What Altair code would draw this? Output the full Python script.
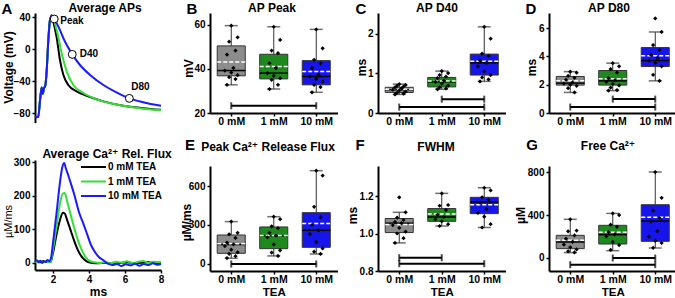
import json
import altair as alt
import pandas as pd

FONT = "Liberation Sans, Arial, DejaVu Sans"
W, H = 675, 298

GROUPS = ["0 mM", "1 mM", "10 mM"]
TRACES = ["0 mM TEA", "1 mM TEA", "10 mM TEA"]
BOX_FILL = ["#8c8c8c", "#1e8a1e", "#1616ea"]
TRACE_COLORS = ["#000000", "#33e033", "#1a1aff"]
INK = "#333333"

# ---------------- Average action potentials (ms, mV) ----------------
ap_rise_t = [1.0, 1.18, 1.28, 1.37, 1.43, 1.5, 1.57, 1.65, 1.74, 1.83, 1.93]
ap_rise_v = [-85, -85, -64, -48, -56, -49, -46, -27, 11, 36, 42]
ap_fall_t = {
    "0 mM TEA": [2.0, 2.2, 2.39, 2.57, 2.85, 3.31, 4.06, 4.8, 5.9, 7.0, 8.0],
    "1 mM TEA": [2.0, 2.2, 2.48, 2.76, 3.13, 3.69, 4.43, 5.54, 6.83, 8.0],
    "10 mM TEA": [2.07, 2.3, 2.67, 3.07, 3.5, 4.06, 4.8, 5.5, 6.24, 7.0, 8.0],
}
ap_fall_v = {
    "0 mM TEA": [36, 15, -14, -32, -45, -53, -60, -65.5, -71, -74, -76],
    "1 mM TEA": [39, 24, -5, -28, -45, -55, -63, -69.5, -74, -76.5],
    "10 mM TEA": [37.5, 28, 9, -6.7, -20, -32.5, -45, -54, -61.7, -66.5, -71],
}
ap_marks = ["Peak", "D40", "D80"]
ap_marks_t = [2.07, 3.07, 6.24]
ap_marks_v = [37.5, -6.7, -61.7]

# ---------------- Average Ca2+ release flux (ms, uM/ms) ----------------
flux_t = {
    "0 mM TEA": [1.0, 1.15, 1.3, 1.45, 1.6, 1.75, 1.87, 2.0, 2.2, 2.4, 2.55, 2.65, 2.8, 2.95,
                 3.15, 3.35, 3.55, 3.75, 3.95, 4.2, 4.5, 4.9, 5.3, 5.7, 6.1, 6.5, 6.9, 7.3, 7.7, 8.0],
    "1 mM TEA": [1.0, 1.15, 1.3, 1.45, 1.6, 1.75, 1.87, 2.0, 2.2, 2.4, 2.55, 2.65, 2.8, 3.0, 3.2,
                 3.4, 3.6, 3.8, 4.0, 4.3, 4.6, 4.9, 5.2, 5.5, 5.8, 6.1, 6.4, 6.7, 7.0, 7.3, 7.6, 8.0],
    "10 mM TEA": [1.0, 1.1, 1.2, 1.3, 1.4, 1.5, 1.6, 1.7, 1.8, 1.9, 2.0, 2.2, 2.4, 2.52, 2.62,
                  2.72, 2.85, 3.0, 3.2, 3.45, 3.7, 3.9, 4.1, 4.3, 4.55, 4.8, 5.05, 5.3, 5.55, 5.8,
                  6.05, 6.3, 6.55, 6.8, 7.05, 7.3, 7.55, 7.8, 8.0],
}
flux_v = {
    "0 mM TEA": [3, 5, 2, 6, 3, 5, 3, 30, 85, 130, 149, 147, 125, 102, 70, 42, 22, 10, 3, 0,
                 -1, 1, -2, 0, 2, -1, 1, 3, 0, 1],
    "1 mM TEA": [4, 2, 6, 3, 5, 2, 4, 40, 110, 180, 207, 208, 180, 140, 100, 65, 38, 18, 7, 2,
                 0, 3, -1, 4, 1, 5, 0, 3, 6, 1, 4, 2],
    "10 mM TEA": [4, 8, 2, 7, 0, 5, 3, 9, 6, 18, 60, 150, 245, 285, 297, 280, 260, 235, 200, 150,
                  115, 85, 55, 35, 18, 8, -2, -6, -3, -9, -4, -7, -2, -8, -3, -6, -1, -5, -3],
}

# ---------------- Summary panels (0, 1, 10 mM TEA) ----------------
peak_points = [
    [59.7, 54.4, 52.4, 48.4, 46.5, 40.5, 39.3, 38.4, 37.2, 36.3, 35.4, 32.8],
    [59.2, 53.2, 48.4, 47.2, 42.6, 40.4, 38.1, 36.9, 35.8, 35.1, 32.8, 30.9],
    [58.0, 49.4, 44.2, 42.6, 40.4, 37.5, 36.6, 35.5, 34.3, 32.8, 31.8, 29.4],
]
peak_box = {"lo": [32.8, 30.9, 29.4], "q1": [36.9, 35.5, 32.8], "med": [39.3, 38.1, 36.6],
            "q3": [50.5, 46.7, 43.8], "hi": [59.7, 59.2, 58.0], "mean": [43.2, 41.1, 38.9]}
peak_sig = [(0, 2, 23.3)]

d40_points = [
    [0.73, 0.71, 0.69, 0.67, 0.65, 0.62, 0.59, 0.57, 0.54, 0.51, 0.49, 0.47],
    [1.06, 1.01, 0.96, 0.92, 0.88, 0.82, 0.79, 0.74, 0.69, 0.65, 0.62, 0.60],
    [2.18, 1.88, 1.50, 1.44, 1.32, 1.27, 1.18, 1.05, 0.96, 0.90, 0.85, 0.80],
]
d40_box = {"lo": [0.47, 0.60, 0.80], "q1": [0.52, 0.66, 0.96], "med": [0.59, 0.79, 1.27],
           "q3": [0.65, 0.90, 1.49], "hi": [0.73, 1.06, 2.18], "mean": [0.60, 0.81, 1.31]}
d40_sig = [(1, 2, 0.35), (0, 2, 0.15)]

d80_points = [
    [2.92, 2.85, 2.62, 2.48, 2.35, 2.15, 2.08, 2.00, 1.92, 1.75, 1.45],
    [3.52, 3.30, 3.10, 2.85, 2.45, 2.30, 2.20, 2.05, 1.95, 1.80, 1.62, 1.58],
    [6.68, 5.72, 4.80, 4.45, 4.10, 3.90, 3.70, 3.55, 3.30, 2.70, 2.27],
]
d80_box = {"lo": [1.45, 1.58, 2.27], "q1": [1.97, 1.97, 3.28], "med": [2.11, 2.27, 3.70],
           "q3": [2.58, 3.00, 4.62], "hi": [2.92, 3.52, 5.72], "mean": [2.27, 2.41, 4.05]}
d80_sig = [(1, 2, 0.98), (0, 2, 0.42)]

flux_points = [
    [326, 240, 228, 200, 165, 150, 138, 110, 90, 78, 60, 46],
    [364, 345, 290, 275, 240, 218, 205, 150, 105, 88, 62],
    [718, 680, 440, 360, 300, 259, 230, 170, 120, 95, 77],
]
flux_box = {"lo": [44, 62, 77], "q1": [82, 118, 128], "med": [150, 218, 259],
            "q3": [223, 285, 395], "hi": [326, 364, 718], "mean": [156, 220, 312]}
flux_sig = [(0, 2, 0)]

fwhm_points = [
    [1.193, 1.113, 1.085, 1.072, 1.062, 1.055, 1.045, 1.03, 1.01, 1.0, 0.975, 0.95],
    [1.214, 1.152, 1.148, 1.125, 1.10, 1.088, 1.075, 1.065, 1.05, 1.04],
    [1.244, 1.23, 1.193, 1.18, 1.165, 1.13, 1.11, 1.09, 1.05, 1.032],
]
fwhm_box = {"lo": [0.95, 1.04, 1.032], "q1": [1.005, 1.065, 1.106], "med": [1.055, 1.088, 1.168],
            "q3": [1.08, 1.133, 1.193], "hi": [1.113, 1.214, 1.244], "mean": [1.048, 1.104, 1.154]}
fwhm_sig = [(0, 1, 0.871), (0, 2, 0.839)]

ca_points = [
    [360, 255, 248, 210, 180, 150, 125, 100, 80, 62, 52],
    [415, 400, 310, 290, 240, 220, 200, 150, 120, 75],
    [800, 560, 440, 370, 340, 250, 200, 160, 140, 95],
]
ca_box = {"lo": [50, 68, 93], "q1": [87, 130, 155], "med": [149, 217, 344],
          "q3": [211, 304, 496], "hi": [360, 415, 800], "mean": [164, 239, 378]}
ca_sig = [(1, 2, 0), (0, 2, -62)]


def left_axis(x_at, ticks, title, title_dx, title_y, fmt=None, **kw):
    args = dict(orient="left", offset=-x_at, values=ticks, title=title, titleX=title_dx,
                titleY=title_y, titleAngle=-90, titleAlign="center", titleBaseline="middle")
    if fmt:
        args["format"] = fmt
    args.update(kw)
    return alt.Axis(**args)


def bottom_axis(y_at, ticks, title, title_x, title_dy, **kw):
    args = dict(orient="bottom", offset=y_at - H, values=ticks, title=title, titleX=title_x,
                titleY=title_dy, titleAngle=0, titleAlign="center", titleBaseline="middle")
    args.update(kw)
    return alt.Axis(**args)


def text_mark(s, x, y, size, weight="bold", align="center"):
    return alt.Chart(pd.DataFrame({"s": [s]})).mark_text(
        font=FONT, fontSize=size, fontWeight=weight, align=align, baseline="middle", color="black"
    ).encode(text="s:N", x=alt.value(x), y=alt.value(y))


# ---------------- Panel A, top: action potentials ----------------
ap_df = pd.DataFrame(
    [{"trace": name, "t": t, "v": v}
     for name in TRACES
     for t, v in zip(ap_rise_t + ap_fall_t[name], ap_rise_v + ap_fall_v[name])]
)
ap_mark_df = pd.DataFrame({"name": ap_marks, "t": ap_marks_t, "v": ap_marks_v})

ap_xs = alt.Scale(domain=[1, 8], range=[35, 161], nice=False, zero=False)
ap_ys = alt.Scale(domain=[-92, 45], range=[122.6, 13], nice=False, zero=False)
ap_yaxis = left_axis(35, [-80, -40, 0, 40], "Voltage (mV)", -27, 67)


def ap_x(f):
    return alt.X(f, type="quantitative", scale=ap_xs, axis=None)


def ap_y(f):
    return alt.Y(f, type="quantitative", scale=ap_ys, axis=ap_yaxis)


trace_color = alt.Color("trace:N", scale=alt.Scale(domain=TRACES, range=TRACE_COLORS), legend=None)

ap_layers = [
    alt.Chart(ap_df).transform_filter(alt.datum.trace == name)
    .mark_line(strokeWidth=2, interpolate="monotone")
    .encode(x=ap_x("t"), y=ap_y("v"), color=trace_color)
    for name in TRACES
]
ap_layers.append(
    alt.Chart(ap_mark_df).mark_point(shape="circle", filled=True, fill="white", stroke="black",
                                     strokeWidth=1, size=62, opacity=1)
    .encode(x=ap_x("t"), y=ap_y("v"))
)
for name, dx, dy in [("Peak", 6, 2), ("D40", 7.5, 0), ("D80", 2, -11)]:
    ap_layers.append(
        alt.Chart(ap_mark_df).transform_filter(alt.datum.name == name)
        .mark_text(font=FONT, fontSize=10, fontWeight="bold", align="left", baseline="middle",
                   dx=dx, dy=dy, color="black")
        .encode(x=ap_x("t"), y=ap_y("v"), text="name:N")
    )
panel_ap = alt.layer(*ap_layers)

# ---------------- Panel A, bottom: Ca2+ release flux ----------------
flux_df = pd.DataFrame(
    [{"trace": name, "t": t, "v": v}
     for name in TRACES for t, v in zip(flux_t[name], flux_v[name])]
)
fx_xs = alt.Scale(domain=[1, 8], range=[35, 161], nice=False, zero=False)
fx_ys = alt.Scale(domain=[-20.8, 306], range=[270, 160], nice=False, zero=False)
fx_xaxis = bottom_axis(270, [2, 4, 6, 8], "ms", 98, 21, labelPadding=1)
fx_yaxis = left_axis(35, [0, 100, 200, 300], "µM/ms", -27, 221,
                     titleFontWeight="normal", titleFontSize=11)

panel_flux = alt.layer(*[
    alt.Chart(flux_df).transform_filter(alt.datum.trace == name)
    .mark_line(strokeWidth=2, interpolate="monotone")
    .encode(x=alt.X("t", type="quantitative", scale=fx_xs, axis=fx_xaxis),
            y=alt.Y("v", type="quantitative", scale=fx_ys, axis=fx_yaxis),
            color=trace_color)
    for name in TRACES
])

# Legend rows for the three traces, stacked by their order
legend_df = pd.DataFrame({"trace": TRACES, "row": list(range(len(TRACES)))})
legend_y = alt.Y("row:Q", scale=alt.Scale(domain=[0, 2], range=[167, 196], nice=False, zero=False),
                 axis=None)
panel_legend = alt.layer(
    alt.Chart(legend_df).mark_rule(strokeWidth=2)
    .encode(x=alt.value(81), x2=alt.value(106), y=legend_y, color=trace_color),
    alt.Chart(legend_df).mark_text(font=FONT, fontSize=10, fontWeight="bold", align="left",
                                   baseline="middle", color="black")
    .encode(x=alt.value(108), y=legend_y, text="trace:N"),
)


# ---------------- Box-and-whisker summary panels ----------------
def box_panel(points, box, sig, x0, yrange, ydomain, yticks, ytitle, ytitle_dx, ytitle_y,
              fmt=None, xtitle=None):
    xs = alt.Scale(domain=[-0.5, 2.5], range=[x0, x0 + 127.5], nice=False, zero=False)
    ys = alt.Scale(domain=ydomain, range=yrange, nice=False, zero=False)
    xaxis = bottom_axis(yrange[0], [0, 1, 2], xtitle, x0 + 63.75, 21,
                        labelExpr=f"{json.dumps(GROUPS)}[datum.value]", labelFontSize=10.5,
                        labelPadding=0, titleFontSize=11.5)
    yaxis = left_axis(x0, yticks, ytitle, ytitle_dx, ytitle_y, fmt=fmt)

    def X(f):
        return alt.X(f, type="quantitative", scale=xs, axis=xaxis)

    def Y(f):
        return alt.Y(f, type="quantitative", scale=ys, axis=yaxis)

    box_df = pd.DataFrame({"grp": [0, 1, 2], **box})
    pts_df = pd.DataFrame([{"grp": g, "value": v} for g, vals in enumerate(points) for v in vals])
    sig_df = pd.DataFrame(sig, columns=["a", "b", "level"])

    boxes = alt.Chart(box_df).transform_calculate(xl="datum.grp - 0.33", xr="datum.grp + 0.33")
    fill = alt.Color("grp:N", scale=alt.Scale(domain=[0, 1, 2], range=BOX_FILL), legend=None)

    return alt.layer(
        boxes.mark_rule(color=INK, strokeWidth=1).encode(x=X("grp"), y=Y("lo"), y2=alt.Y2("q1")),
        boxes.mark_rule(color=INK, strokeWidth=1).encode(x=X("grp"), y=Y("q3"), y2=alt.Y2("hi")),
        boxes.transform_fold(["lo", "hi"], as_=["end", "yv"])
        .mark_tick(orient="horizontal", size=13, thickness=1.5, color=INK)
        .encode(x=X("grp"), y=Y("yv:Q")),
        boxes.mark_rect(stroke=INK, strokeWidth=1)
        .encode(x=X("xl"), x2=alt.X2("xr"), y=Y("q1"), y2=alt.Y2("q3"), color=fill),
        boxes.mark_rule(color="black", strokeWidth=1.5)
        .encode(x=X("xl"), x2=alt.X2("xr"), y=Y("med")),
        boxes.mark_rule(color="white", strokeWidth=1.5, strokeDash=[4, 2])
        .encode(x=X("xl"), x2=alt.X2("xr"), y=Y("mean")),
        alt.Chart(pts_df)
        .transform_window(rn="row_number()", groupby=["grp"])
        .transform_calculate(jx="datum.grp + ((datum.rn * 3) % 7 - 3) * 0.05")
        .mark_point(shape="diamond", filled=True, size=18, color="black", opacity=1)
        .encode(x=X("jx"), y=Y("value")),
        alt.Chart(sig_df).mark_rule(color="black", strokeWidth=2)
        .encode(x=X("a"), x2=alt.X2("b"), y=Y("level")),
        alt.Chart(sig_df).transform_fold(["a", "b"], as_=["side", "xv"])
        .mark_tick(orient="vertical", size=7, thickness=2, color="black")
        .encode(x=X("xv:Q"), y=Y("level")),
    )


TOP = [113, 13]
BOT = [271, 166]

panel_b = box_panel(peak_points, peak_box, peak_sig, 210, TOP, [20, 65.45], [20, 40, 60],
                    "mV", -22, 68)
panel_c = box_panel(d40_points, d40_box, d40_sig, 378, TOP, [0, 2.53], [0, 1, 2],
                    "ms", -17, 67)
panel_d = box_panel(d80_points, d80_box, d80_sig, 549, TOP, [0, 7.06], [0, 2, 4, 6],
                    "ms", -18, 67)
panel_e = box_panel(flux_points, flux_box, flux_sig, 210, BOT, [-54, 754], [0, 300, 600],
                    "µM/ms", -24, 222, xtitle="TEA")
panel_f = box_panel(fwhm_points, fwhm_box, fwhm_sig, 378, BOT, [0.8, 1.36], [0.8, 1.0, 1.2],
                    "ms", -26, 215, fmt=".1f", xtitle="TEA")
panel_g = box_panel(ca_points, ca_box, ca_sig, 549, BOT, [-121, 856], [0, 400, 800],
                    "µM", -29, 215, xtitle="TEA")

texts = [
    text_mark("A", 7, 9, 15),
    text_mark("B", 192, 9, 15),
    text_mark("C", 361, 9, 15),
    text_mark("D", 531, 9, 15),
    text_mark("E", 190, 145, 15),
    text_mark("F", 360, 145, 15),
    text_mark("G", 532, 145, 15),
    text_mark("Average APs", 105, 8, 12),
    text_mark("AP Peak", 272, 8, 12),
    text_mark("AP D40", 437, 8, 12),
    text_mark("AP D80", 609, 8, 12),
    text_mark("Average Ca²⁺ Rel. Flux", 107, 154, 12),
    text_mark("Peak Ca²⁺ Release Flux", 268, 147, 12),
    text_mark("FWHM", 436, 147, 12),
    text_mark("Free Ca²⁺", 608, 146, 12),
]

chart = (
    alt.layer(panel_ap, panel_flux, panel_legend, panel_b, panel_c, panel_d,
              panel_e, panel_f, panel_g, *texts)
    .resolve_scale(x="independent", y="independent", color="independent")
    .resolve_axis(x="independent", y="independent")
    .properties(width=W, height=H, padding=0, autosize=alt.AutoSizeParams(type="none"),
                background="white")
    .configure_view(stroke=None)
    .configure_axis(grid=False, domainColor="black", domainWidth=2, tickColor="black",
                    tickWidth=1.5, tickSize=3, labelColor="black", labelFont=FONT,
                    labelFontWeight="bold", labelFontSize=10, labelPadding=2, labelFlush=False,
                    titleColor="black", titleFont=FONT, titleFontWeight="bold", titleFontSize=12)
)

chart.save("out.html", embed_options={"renderer": "svg", "actions": False})
